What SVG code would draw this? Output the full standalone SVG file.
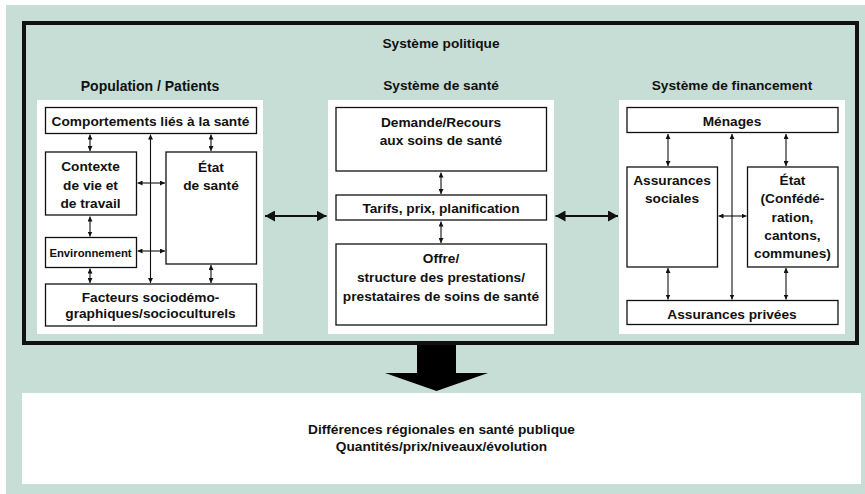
<svg xmlns="http://www.w3.org/2000/svg" width="865" height="494" viewBox="0 0 865 494">
<defs>
<style>
text{font-family:"Liberation Sans",Arial,sans-serif;font-weight:bold;font-size:13.7px;fill:#111;text-anchor:middle}
.box{fill:#fff;stroke:#111;stroke-width:1.3}
.panel{fill:#fff;stroke:none}
.small{font-size:11.3px}
.title{font-size:14px}
.con{stroke:#111;stroke-width:1.1;fill:none;marker-start:url(#ah);marker-end:url(#ah)}
.big{stroke:#111;stroke-width:2;fill:none;marker-start:url(#bh);marker-end:url(#bh)}
</style>
<marker id="ah" viewBox="0 0 5 5" refX="5" refY="2.5" markerWidth="5" markerHeight="5" markerUnits="userSpaceOnUse" orient="auto-start-reverse"><path d="M0,0 L5,2.5 L0,5 z" fill="#111"/></marker>
<marker id="bh" viewBox="0 0 10 11" refX="10" refY="5.5" markerWidth="10" markerHeight="11" markerUnits="userSpaceOnUse" orient="auto-start-reverse"><path d="M0,0 L10,5.5 L0,11 z" fill="#111"/></marker>
</defs>
<rect x="6" y="5" width="859" height="489" fill="#c6ded6"/>
<g id="systeme-politique">
<rect x="24" y="23" width="833" height="320" fill="none" stroke="#111" stroke-width="4"/>
<text x="441" y="48">Système politique</text>
</g>
<g id="panel-population">
<text class="title" x="150" y="91">Population / Patients</text>
<rect class="panel" x="37" y="100" width="226" height="234"/>
</g>
<g id="panel-sante">
<text x="441" y="90">Système de santé</text>
<rect class="panel" x="328" y="100" width="226" height="234"/>
</g>
<g id="panel-financement">
<text x="732" y="90">Système de financement</text>
<rect class="panel" x="619" y="100" width="226" height="234"/>
</g>
<g id="comportements">
<rect class="box" x="45.5" y="107.5" width="211" height="26"/>
<text x="150.5" y="125.5">Comportements liés à la santé</text>
</g>
<g id="contexte">
<rect class="box" x="45.5" y="152" width="91" height="63"/>
<text x="90.5" y="171">Contexte</text>
<text x="90.5" y="189.5">de vie et</text>
<text x="90.5" y="208">de travail</text>
</g>
<g id="etat-sante">
<rect class="box" x="166" y="152" width="90.5" height="112"/>
<text x="211" y="171.5">État</text>
<text x="211" y="190">de santé</text>
</g>
<g id="environnement">
<rect class="box" x="45.5" y="237.5" width="91" height="30"/>
<text class="small" x="90.5" y="256.5">Environnement</text>
</g>
<g id="facteurs">
<rect class="box" x="45.5" y="284" width="211" height="42"/>
<text x="150.5" y="301.5">Facteurs sociodémo-</text>
<text x="150.5" y="317.5">graphiques/socioculturels</text>
</g>
<g id="demande">
<rect class="box" x="336" y="107.5" width="210.5" height="63.5"/>
<text x="441" y="127">Demande/Recours</text>
<text x="441" y="145">aux soins de santé</text>
</g>
<g id="tarifs">
<rect class="box" x="336" y="195" width="210.5" height="25"/>
<text x="441" y="213">Tarifs, prix, planification</text>
</g>
<g id="offre">
<rect class="box" x="336" y="244" width="210.5" height="81"/>
<text x="441" y="263">Offre/</text>
<text x="441" y="282">structure des prestations/</text>
<text x="441" y="301">prestataires de soins de santé</text>
</g>
<g id="menages">
<rect class="box" x="627" y="107.5" width="211" height="25"/>
<text x="732" y="126">Ménages</text>
</g>
<g id="assurances-sociales">
<rect class="box" x="627" y="167" width="90.5" height="100"/>
<text x="672" y="185">Assurances</text>
<text x="672" y="203">sociales</text>
</g>
<g id="etat">
<rect class="box" x="747.5" y="167" width="90.5" height="100"/>
<text x="792.5" y="185">État</text>
<text x="792.5" y="203.3">(Confédé-</text>
<text x="792.5" y="221.7">ration,</text>
<text x="792.5" y="240">cantons,</text>
<text x="792.5" y="258.3">communes)</text>
</g>
<g id="assurances-privees">
<rect class="box" x="627" y="300.5" width="211" height="24"/>
<text x="732" y="318.5">Assurances privées</text>
</g>
<g id="connectors">
<line class="con" x1="90" y1="134.5" x2="90" y2="151"/>
<line class="con" x1="211" y1="134.5" x2="211" y2="151"/>
<line class="con" x1="150.5" y1="134.5" x2="150.5" y2="283"/>
<line class="con" x1="137.5" y1="183" x2="165" y2="183"/>
<line class="con" x1="137.5" y1="251" x2="165" y2="251"/>
<line class="con" x1="90" y1="216.5" x2="90" y2="236.5"/>
<line class="con" x1="90" y1="268.5" x2="90" y2="283"/>
<line class="con" x1="211" y1="265" x2="211" y2="283"/>
<line class="con" x1="441" y1="172.5" x2="441" y2="194"/>
<line class="con" x1="441" y1="221.5" x2="441" y2="243"/>
<line class="con" x1="668" y1="134" x2="668" y2="166"/>
<line class="con" x1="786" y1="134" x2="786" y2="166"/>
<line class="con" x1="732" y1="134" x2="732" y2="299.5"/>
<line class="con" x1="718.5" y1="216" x2="746.5" y2="216"/>
<line class="con" x1="668" y1="268" x2="668" y2="299.5"/>
<line class="con" x1="786" y1="268" x2="786" y2="299.5"/>
<line class="big" x1="265" y1="216" x2="326.5" y2="216"/>
<line class="big" x1="555.5" y1="216" x2="618" y2="216"/>
<polygon points="417,345 456,345 456,373 488,373 436.5,391 385,373 417,373" fill="#000"/>
</g>
<g id="resultat">
<rect x="22" y="393" width="839" height="91" fill="#fff"/>
<text x="441.5" y="433.5">Différences régionales en santé publique</text>
<text x="441.5" y="451">Quantités/prix/niveaux/évolution</text>
</g>
</svg>
